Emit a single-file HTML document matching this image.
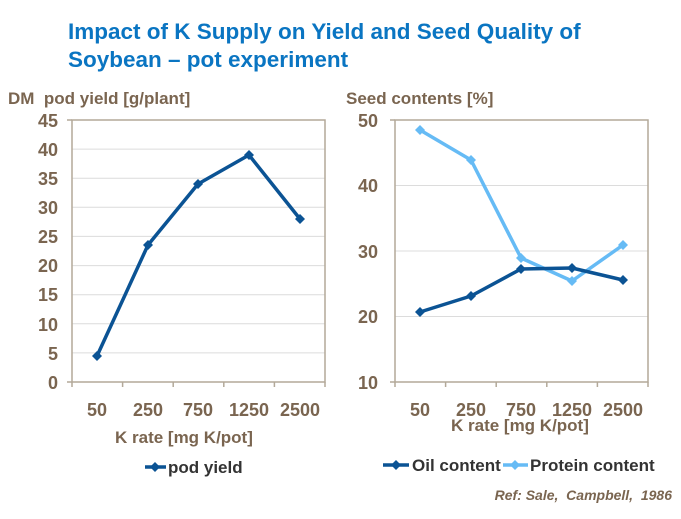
<!DOCTYPE html><html><head><style>body{margin:0;background:#fff;width:681px;height:514px;overflow:hidden;font-family:"Liberation Sans",Arial,sans-serif}</style></head><body>
<svg width="681" height="514" xmlns="http://www.w3.org/2000/svg" font-family="Liberation Sans, Arial, sans-serif">
<text x="68" y="39" font-size="22.5" font-weight="bold" fill="#0a75c2">Impact of K Supply on Yield and Seed Quality of</text>
<text x="68" y="67" font-size="22.5" font-weight="bold" fill="#0a75c2">Soybean – pot experiment</text>
<g fill="#7a6550" font-weight="bold" font-size="17">
<text x="8" y="104" xml:space="preserve">DM  pod yield [g/plant]</text>
<text x="346" y="104">Seed contents [%]</text>
<text x="115" y="443">K rate [mg K/pot]</text>
<text x="451" y="431">K rate [mg K/pot]</text>
</g>
<g stroke="#dcdcdc" stroke-width="1">
<line x1="72" x2="325" y1="149.1" y2="149.1"/><line x1="72" x2="325" y1="178.2" y2="178.2"/><line x1="72" x2="325" y1="207.3" y2="207.3"/><line x1="72" x2="325" y1="236.4" y2="236.4"/><line x1="72" x2="325" y1="265.6" y2="265.6"/><line x1="72" x2="325" y1="294.7" y2="294.7"/><line x1="72" x2="325" y1="323.8" y2="323.8"/><line x1="72" x2="325" y1="352.9" y2="352.9"/>
<line x1="395" x2="648" y1="185.5" y2="185.5"/><line x1="395" x2="648" y1="251" y2="251"/><line x1="395" x2="648" y1="316.5" y2="316.5"/>
</g>
<g stroke="#b3a999" stroke-width="1.5" fill="none">
<rect x="72" y="120" width="253" height="262"/><rect x="395" y="120" width="253" height="262"/>
<path d="M72 382h-5M72 120h-5M122.6 382v5M173.2 382v5M223.8 382v5M274.4 382v5M325 382v5M395 382h-5M395 120h-5M445.6 382v5M496.2 382v5M546.8 382v5M597.4 382v5M648 382v5M72 382v5M395 382v5"/>
</g>
<g fill="#7a6550" font-weight="bold" font-size="18" text-anchor="end">
<text x="58" y="127">45</text><text x="58" y="156">40</text><text x="58" y="185">35</text><text x="58" y="214">30</text><text x="58" y="243">25</text><text x="58" y="272">20</text><text x="58" y="301">15</text><text x="58" y="331">10</text><text x="58" y="360">5</text><text x="58" y="389">0</text>
<text x="378" y="127">50</text><text x="378" y="192">40</text><text x="378" y="258">30</text><text x="378" y="323">20</text><text x="378" y="389">10</text>
</g>
<g fill="#7a6550" font-weight="bold" font-size="18" text-anchor="middle">
<text x="97" y="416">50</text><text x="148" y="416">250</text><text x="198" y="416">750</text><text x="249" y="416">1250</text><text x="300" y="416">2500</text>
<text x="420" y="416">50</text><text x="471" y="416">250</text><text x="521" y="416">750</text><text x="572" y="416">1250</text><text x="623" y="416">2500</text>
</g>
<defs><path id="d" d="M0 -5L5 0L0 5L-5 0Z"/></defs>
<polyline fill="none" stroke="#0b5394" stroke-width="3.5" stroke-linejoin="round" points="97,356 148,245 198,184 249,155 300,219"/>
<g fill="#0b5394"><use href="#d" x="97" y="356"/><use href="#d" x="148" y="245"/><use href="#d" x="198" y="184"/><use href="#d" x="249" y="155"/><use href="#d" x="300" y="219"/></g>
<polyline fill="none" stroke="#66bbf5" stroke-width="3.5" stroke-linejoin="round" points="420,130 471,160 521,258 572,281 623,245"/>
<g fill="#66bbf5"><use href="#d" x="420" y="130"/><use href="#d" x="471" y="160"/><use href="#d" x="521" y="258"/><use href="#d" x="572" y="281"/><use href="#d" x="623" y="245"/></g>
<polyline fill="none" stroke="#0b5394" stroke-width="3.5" stroke-linejoin="round" points="420,312 471,296 521,269 572,268 623,280"/>
<g fill="#0b5394"><use href="#d" x="420" y="312"/><use href="#d" x="471" y="296"/><use href="#d" x="521" y="269"/><use href="#d" x="572" y="268"/><use href="#d" x="623" y="280"/></g>
<line x1="145" x2="166" y1="467" y2="467" stroke="#0b5394" stroke-width="3.5"/><use href="#d" x="155" y="467" fill="#0b5394"/>
<text x="168" y="473" font-size="17" font-weight="bold" fill="#333">pod yield</text>
<line x1="383" x2="409" y1="465" y2="465" stroke="#0b5394" stroke-width="3.5"/><use href="#d" x="396" y="465" fill="#0b5394"/>
<text x="412" y="471" font-size="17" font-weight="bold" fill="#333">Oil content</text>
<line x1="503" x2="528" y1="465" y2="465" stroke="#66bbf5" stroke-width="3.5"/><use href="#d" x="515" y="465" fill="#66bbf5"/>
<text x="530" y="471" font-size="17" font-weight="bold" fill="#333">Protein content</text>
<text x="672" y="500" font-size="14" font-weight="bold" font-style="italic" fill="#7a6550" text-anchor="end" xml:space="preserve">Ref: Sale,  Campbell,  1986</text>
</svg></body></html>
